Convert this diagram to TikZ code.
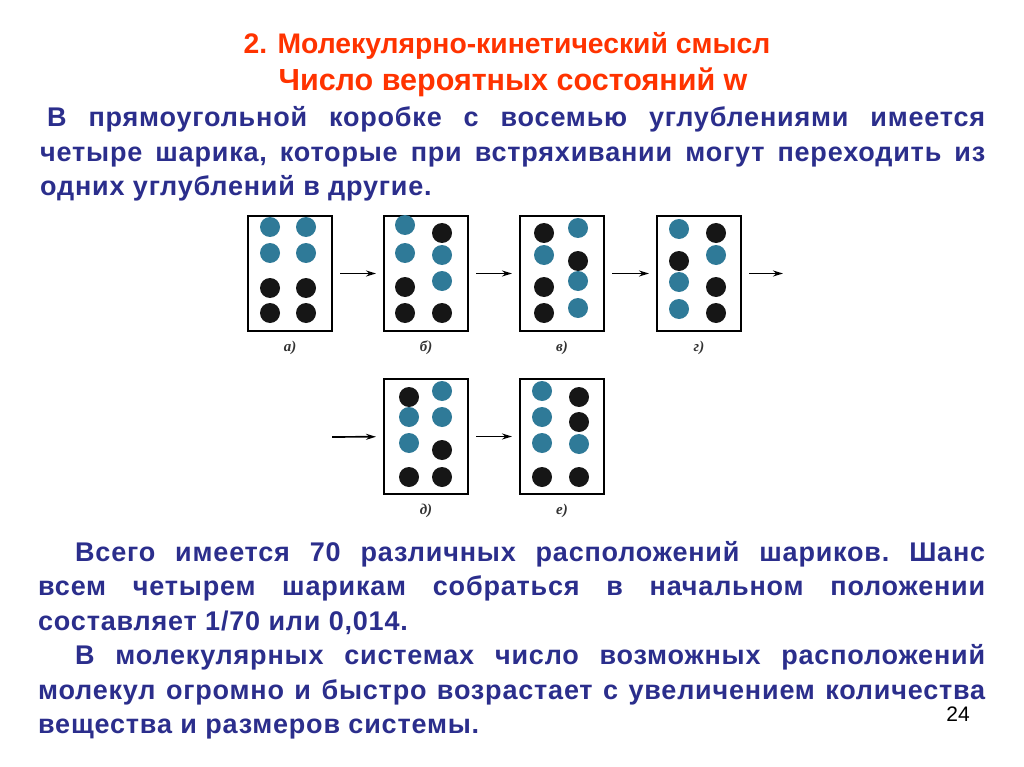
\documentclass[tikz,border=0pt]{standalone}
\usepackage{fontspec}
\setmainfont{Liberation Sans}
\newfontfamily\capfont{Liberation Serif}
\newfontfamily\bodyfont[LetterSpace=3]{Liberation Sans}
\usetikzlibrary{arrows.meta,positioning,calc}
\definecolor{titlered}{RGB}{255,51,0}
\definecolor{textblue}{RGB}{43,46,140}
\definecolor{ballblue}{RGB}{47,122,152}
\definecolor{ballblack}{RGB}{22,22,22}
% balls of one box: box name, blue offsets, black offsets (from the top left corner)
\newcommand{\ballset}[3]{%
  \foreach \px/\py in {#2} \fill[ballblue] ($(#1.north west)+(\px,\py)$) circle (10pt);
  \foreach \px/\py in {#3} \fill[ballblack] ($(#1.north west)+(\px,\py)$) circle (10pt);}

\begin{document}
\begin{tikzpicture}[x=1pt,y=-1pt,
    box/.style={draw,line width=1.8pt,minimum width=84pt,minimum height=115pt,inner sep=0pt,outer sep=0pt},
    caption/.style={font=\capfont\bfseries\itshape\fontsize{15}{15}\selectfont,text=black!80,inner sep=0pt},
    move/.style={-{Stealth[length=10pt,width=6pt]},line width=1.7pt,shorten <=8pt,shorten >=8pt},
    para/.style={text=textblue,font=\bodyfont\bfseries\fontsize{27}{34.5}\selectfont\frenchspacing,align=justify,inner sep=0pt,anchor=base west},
    title/.style={text=titlered,inner sep=0pt,anchor=base}]
\useasboundingbox (0,0) rectangle (1024,767);
\fill[white] (0,0) rectangle (1024,767);

\node[title,font=\bfseries\fontsize{28.3}{28}\selectfont] (head) at (507,54) {2. Молекулярно-кинетический смысл};
\node[title,font=\bfseries\fontsize{30.5}{30}\selectfont] (sub) at (513,91) {Число вероятных состояний w};

\node[para,text width=945pt] (intro) at (40,127) {\hspace*{7pt}В прямоугольной коробке с восемью углублениями имеется\linebreak
  четыре шарика, которые при встряхивании могут переходить из\linebreak
  одних углублений в другие.};

% the six states of the box
\node[box] (a) at (290,273.5) {};
\node[box,right=52pt of a] (b) {};
\node[box,right=52pt of b] (v) {};
\node[box,right=53pt of v] (g) {};
\node[box,below=48pt of b] (d) {};
\node[box,below=48pt of v] (e) {};

\ballset{a}{22/11,58/11,22/37,58/37}{22/72,58/72,22/97,58/97}
\ballset{b}{21/9,21/37,58/39,58/65}{21/71,21/97,58/17,58/97}
\ballset{v}{24/39,58/12,58/65,58/92}{24/17,24/71,24/97,58/45}
\ballset{g}{22/13,22/66,22/93,59/39}{22/45,59/17,59/71,59/97}
\ballset{d}{25/38,25/64,58/12,58/38}{25/18,25/98,58/71,58/98}
\ballset{e}{22/12,22/38,22/64,59/65}{22/98,59/18,59/43,59/98}

\node[caption,below=10pt of a] (acap) {а)};
\node[caption,below=10pt of b] (bcap) {б)};
\node[caption,below=10pt of v] (vcap) {в)};
\node[caption,below=10pt of g] (gcap) {г)};
\node[caption,below=10pt of d] (dcap) {д)};
\node[caption,below=10pt of e] (ecap) {е)};

\coordinate (gout) at (791,273.5);
\coordinate (din) at (324,437);
\draw[move] (a) -- (b);
\draw[move] (b) -- (v);
\draw[move] (v) -- (g);
\draw[move] (g) -- (gout);
\draw[move] (din) -- (d);
\draw[move] (d) -- (e);

\node[para,text width=947pt] (total) at (38,561) {\hspace*{37pt}Всего имеется 70 различных расположений шариков. Шанс\linebreak
  всем четырем шарикам собраться в начальном положении\linebreak
  составляет 1/70 или 0,014.\par
  \hspace*{37pt}В молекулярных системах число возможных расположений\linebreak
  молекул огромно и быстро возрастает с увеличением количества\linebreak
  вещества и размеров системы.};

\node[font=\fontsize{21}{21}\selectfont,anchor=base,inner sep=0pt] (page) at (958,721) {24};
\end{tikzpicture}
\end{document}
